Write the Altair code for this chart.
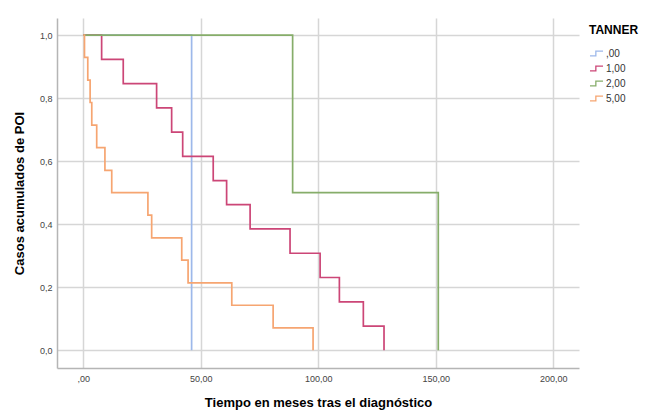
import altair as alt
import pandas as pd

# Series: event times (months) and cumulative proportion after each step
groups = [",00", "1,00", "2,00", "5,00"]
colors = ["#9db8ea", "#cc4677", "#86ad6a", "#f6a571"]

t_00 = [0, 46.1]
v_00 = [1.0, 0.0]

t_10 = [0, 7.8, 17.0, 31.2, 37.6, 42.3, 55.3, 61.0, 71.0, 88.0, 100.8, 109.0, 119.2, 128.0]
v_10 = [1.0, 0.923, 0.846, 0.769, 0.692, 0.615, 0.538, 0.462, 0.385, 0.308, 0.231, 0.154, 0.077, 0.0]

t_20 = [0, 89.1, 151.1]
v_20 = [1.0, 0.5, 0.0]

t_50 = [0, 0.5, 1.9, 2.9, 3.6, 5.7, 9.2, 12.1, 27.5, 29.1, 41.9, 44.6, 63.2, 80.8, 97.8]
v_50 = [1.0, 0.929, 0.857, 0.786, 0.714, 0.643, 0.571, 0.5, 0.429, 0.357, 0.286, 0.214, 0.143, 0.071, 0.0]

x_ticks = [0, 50, 100, 150, 200]
y_ticks = [0.0, 0.2, 0.4, 0.6, 0.8, 1.0]

rows = []
for g, ts, vs in zip(groups, [t_00, t_10, t_20, t_50], [v_00, v_10, v_20, v_50]):
    for i, (t, v) in enumerate(zip(ts, vs)):
        rows.append({"TANNER": g, "t": t, "v": v, "o": i})
df = pd.DataFrame(rows)

FONT = "Liberation Sans"

chart = alt.Chart(df).mark_line(interpolate="step-after", strokeWidth=1.7).encode(
    x=alt.X("t:Q",
            scale=alt.Scale(domain=[-11.2, 211.0], nice=False, zero=False),
            axis=alt.Axis(values=x_ticks, title="Tiempo en meses tras el diagnóstico",
                          labelExpr="datum.value == 0 ? ',00' : replace(format(datum.value, '.2f'), '.', ',')",
                          ticks=False, labelPadding=6, titlePadding=13)),
    y=alt.Y("v:Q",
            scale=alt.Scale(domain=[-0.056, 1.054], nice=False, zero=False),
            axis=alt.Axis(values=y_ticks, title="Casos acumulados de POI",
                          labelExpr="replace(format(datum.value, '.1f'), '.', ',')",
                          ticks=False, labelPadding=5, titlePadding=13)),
    color=alt.Color("TANNER:N",
                    scale=alt.Scale(domain=groups, range=colors),
                    sort=groups,
                    legend=alt.Legend(orient="none", legendX=532, legendY=7,
                                      symbolType="M-1,0.35H-0.1V-0.35H1",
                                      symbolStrokeWidth=1.3, symbolSize=170,
                                      symbolFillColor="transparent",
                                      titleFontSize=12, titleFontWeight="bold",
                                      titleColor="#000", titlePadding=9,
                                      labelFontSize=10, labelColor="#333",
                                      rowPadding=2, labelOffset=2)),
    order="o:Q",
).properties(
    width=522, height=350,
    autosize=alt.AutoSizeParams(type="none"),
    padding={"left": 49, "top": 10, "right": 62, "bottom": 44},
).configure(
    font=FONT,
).configure_view(
    stroke=None,
).configure_axis(
    grid=True, gridColor="#d6d6d6", gridWidth=1.5,
    domainColor="#b5b5b5", domainWidth=1.5,
    labelFont=FONT, labelFontSize=9, labelColor="#444",
    titleFont=FONT, titleFontSize=13, titleFontWeight="bold", titleColor="#000",
).configure_legend(
    labelFont=FONT, titleFont=FONT,
)

chart.save("out.html", embed_options={"renderer": "svg", "actions": False})
